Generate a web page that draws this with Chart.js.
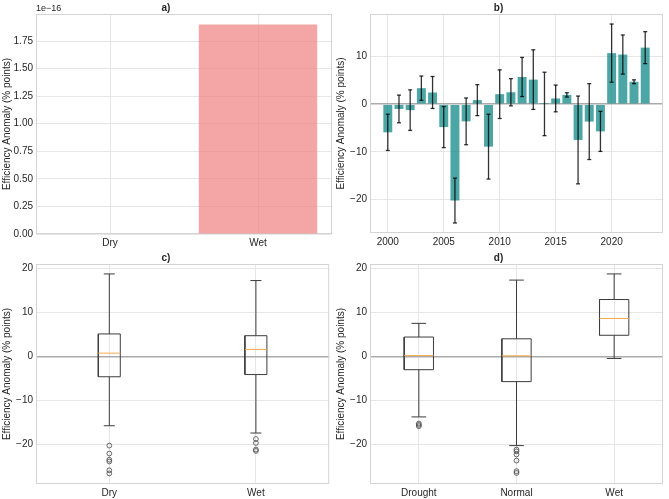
<!DOCTYPE html>
<html>
<head>
<meta charset="utf-8">
<script src="https://cdn.jsdelivr.net/npm/chart.js@4.4.1/dist/chart.umd.min.js"></script>
<style>
  html, body { margin: 0; padding: 0; background: #fff; }
  #fig { position: relative; width: 669px; height: 499px; }
  #fig canvas { position: absolute; }
</style>
</head>
<body>
<div id="fig">
  <canvas id="chartA" width="334" height="250" style="left:0;top:0"></canvas>
  <canvas id="chartB" width="335" height="250" style="left:334px;top:0"></canvas>
  <canvas id="chartC" width="334" height="249" style="left:0;top:250px"></canvas>
  <canvas id="chartD" width="335" height="249" style="left:334px;top:250px"></canvas>
</div>
<script>
// a) mean anomaly by season
var seasonLabels = ["Dry", "Wet"];
var seasonMeans = [0, 1.9e-16];
var tinyTicks = [0, 0.25e-16, 0.5e-16, 0.75e-16, 1.0e-16, 1.25e-16, 1.5e-16, 1.75e-16];

// b) yearly mean anomaly with error bars
var years = [2000, 2001, 2002, 2003, 2004, 2005, 2006, 2007, 2008, 2009, 2010, 2011,
             2012, 2013, 2014, 2015, 2016, 2017, 2018, 2019, 2020, 2021, 2022, 2023];
var yearMeans = [-5.9, -1.0, -1.25, 3.35, 2.45, -4.8, -20.2, -3.6, 0.85, -8.9, 2.1, 2.5,
                 5.7, 5.15, 0.05, 1.2, 1.95, -7.5, -3.65, -5.7, 10.7, 10.4, 4.7, 11.85];
var yearErrors = [3.8, 2.9, 4.25, 2.55, 3.35, 4.3, 4.7, 4.9, 3.25, 6.8, 5.1, 2.85,
                  4.1, 6.25, 6.65, 2.8, 0.45, 9.2, 7.95, 4.2, 6.1, 4.1, 0.4, 3.35];
var yearTicks = [2000, 2005, 2010, 2015, 2020];
var yearAnomalyTicks = [-20, -10, 0, 10];

// c) distribution by season: [low whisker, q1, median, q3, high whisker]
var seasonBoxes = [[-15.7, -4.6, 0.75, 5.1, 18.7], [-17.35, -4.1, 1.6, 4.7, 17.2]];
var seasonOutliers = [[-20.2, -22.0, -23.4, -23.8, -25.8, -26.5], [-18.7, -19.6, -21.1, -21.4]];

// d) distribution by rainfall regime
var regimeLabels = ["Drought", "Normal", "Wet"];
var regimeBoxes = [[-13.7, -3.0, 0.2, 4.4, 7.5], [-20.2, -5.7, 0.15, 4.0, 17.3], [-0.45, 4.8, 8.6, 12.9, 18.7]];
var regimeOutliers = [[-15.2, -15.5, -15.8], [-21.1, -21.5, -22.2, -23.6, -26.0, -26.4], []];
var anomalyTicks = [-20, -10, 0, 10, 20];

var FONT = "'Liberation Sans', Arial, sans-serif";
var TEXT = '#262626';
var GRID = '#e6e6e6';
var YLABEL = 'Efficiency Anomaly (% points)';

Chart.defaults.font.family = FONT;
Chart.defaults.color = TEXT;
Chart.defaults.animation = false;

function minus(v) { return String(v).replace('-', '\u2212'); }

var framePlugin = {
  id: 'frame',
  beforeDatasetsDraw: function(chart) {
    var a = chart.chartArea, ctx = chart.ctx;
    ctx.save();
    ctx.strokeStyle = '#d4d4d4';
    ctx.lineWidth = 1;
    ctx.strokeRect(a.left + 0.5, a.top + 0.5, a.right - a.left - 1, a.bottom - a.top - 1);
    ctx.restore();
  }
};

var offsetTextPlugin = {
  id: 'offsetText',
  afterDraw: function(chart) {
    var a = chart.chartArea, ctx = chart.ctx;
    ctx.save();
    ctx.font = '9px ' + FONT;
    ctx.fillStyle = TEXT;
    ctx.textBaseline = 'bottom';
    ctx.fillText('1e\u221216', a.left, a.top - 1);
    ctx.restore();
  }
};

function yAxis(min, max, ticks, fmt, zero) {
  return {
    min: min, max: max,
    afterBuildTicks: function(s) { s.ticks = ticks.map(function(v) { return { value: v }; }); },
    afterFit: function(s) { s.width = 36; },
    border: { display: false },
    grid: {
      drawTicks: false,
      color: function(c) { return zero && c.tick && c.tick.value === 0 ? '#ababab' : GRID; },
      lineWidth: function(c) { return zero && c.tick && c.tick.value === 0 ? 1.5 : 1; }
    },
    ticks: { padding: 3, font: { size: 10 }, color: TEXT, callback: fmt },
    title: { display: true, text: YLABEL, font: { size: 10 }, color: TEXT, padding: { top: 1, bottom: 0 } }
  };
}

function titleOpts(text) {
  return { display: true, text: text, font: { size: 10, weight: 'bold' }, color: TEXT, padding: { top: 2, bottom: 0 } };
}

function baseOptions(title, scales, rightPad) {
  return {
    responsive: false,
    events: [],
    layout: { padding: { left: 0, right: rightPad, top: 0, bottom: 0 } },
    plugins: { legend: { display: false }, tooltip: { enabled: false }, title: titleOpts(title) },
    scales: scales
  };
}

// ---- a)
new Chart(document.getElementById('chartA'), {
  type: 'bar',
  data: {
    labels: seasonLabels,
    datasets: [{ data: seasonMeans, backgroundColor: 'rgba(240,128,128,0.7)', barPercentage: 0.8, categoryPercentage: 1 }]
  },
  options: baseOptions('a)', {
    x: {
      offset: true,
      afterFit: function(s) { s.height = 16; },
      border: { display: false },
      grid: { offset: false, drawTicks: false, color: GRID },
      ticks: { padding: 3, font: { size: 10 }, color: TEXT }
    },
    y: yAxis(0, 1.995e-16, tinyTicks, function(v) { return (v / 1e-16).toFixed(2); }, false)
  }, 2),
  plugins: [framePlugin, offsetTextPlugin]
});

// ---- b)
var errLines = [], errCaps = [];
years.forEach(function(yr, i) {
  var lo = yearMeans[i] - yearErrors[i], hi = yearMeans[i] + yearErrors[i];
  errLines.push({ x: yr, y: lo }, { x: yr, y: hi }, { x: yr, y: null });
  errCaps.push({ x: yr, y: lo }, { x: yr, y: hi });
});

new Chart(document.getElementById('chartB'), {
  type: 'bar',
  data: {
    datasets: [
      { type: 'line', data: errLines, borderColor: 'rgba(0,0,0,0.8)', borderWidth: 1.3,
        pointRadius: 0, spanGaps: false, order: 0 },
      { type: 'line', data: errCaps, showLine: false, pointStyle: 'line', pointRadius: 2,
        pointBorderColor: 'rgba(0,0,0,0.8)', pointBorderWidth: 1.3, order: 0 },
      { type: 'bar', data: years.map(function(yr, i) { return { x: yr, y: yearMeans[i] }; }),
        backgroundColor: 'rgba(0,128,128,0.7)', barPercentage: 0.8, categoryPercentage: 1, order: 1 }
    ]
  },
  options: baseOptions('b)', {
    x: {
      type: 'linear', offset: false, min: 1998.41, max: 2024.59,
      afterBuildTicks: function(s) { s.ticks = yearTicks.map(function(v) { return { value: v }; }); },
      afterFit: function(s) { s.height = 17; },
      border: { display: false },
      grid: { offset: false, drawTicks: false, color: GRID },
      ticks: { padding: 3, font: { size: 10 }, color: TEXT, callback: function(v) { return String(v); } }
    },
    y: yAxis(-27.0, 18.9, yearAnomalyTicks, minus, true)
  }, 6),
  plugins: [framePlugin]
});

// ---- c) and d) box plots
function boxDatasets(boxes, outliers, width) {
  var whisk = [], caps = [], rects = [], meds = [], outs = [];
  var h = width / 2, c = width / 4;
  boxes.forEach(function(b, i) {
    var p = i + 1;
    whisk.push({ x: p, y: b[0] }, { x: p, y: b[1] }, { x: p, y: null }, { x: p, y: b[3] }, { x: p, y: b[4] }, { x: p, y: null });
    caps.push({ x: p - c, y: b[0] }, { x: p + c, y: b[0] }, { x: p, y: null }, { x: p - c, y: b[4] }, { x: p + c, y: b[4] }, { x: p, y: null });
    rects.push({ x: p - h, y: b[1] }, { x: p + h, y: b[1] }, { x: p + h, y: b[3] }, { x: p - h, y: b[3] }, { x: p - h, y: b[1] }, { x: p, y: null });
    meds.push({ x: p - h, y: b[2] }, { x: p + h, y: b[2] }, { x: p, y: null });
    outliers[i].forEach(function(v) { outs.push({ x: p, y: v }); });
  });
  var dark = '#3c3c3c';
  function line(data, color) {
    return { data: data, showLine: true, spanGaps: false, borderColor: color, borderWidth: 1, pointRadius: 0, borderJoinStyle: 'miter' };
  }
  return [
    { data: outs, showLine: false, pointStyle: 'circle', pointRadius: 2.4, pointBorderWidth: 0.8,
      pointBorderColor: '#444', pointBackgroundColor: 'rgba(0,0,0,0)' },
    line(meds, '#f5a94c'),
    line(rects, dark),
    line(caps, dark),
    line(whisk, dark)
  ];
}

function boxChart(id, title, labels, boxes, outliers, width, rightPad) {
  return new Chart(document.getElementById(id), {
    type: 'scatter',
    data: { datasets: boxDatasets(boxes, outliers, width) },
    options: baseOptions(title, {
      x: {
        type: 'linear', min: 0.5, max: labels.length + 0.5,
        afterBuildTicks: function(s) { s.ticks = labels.map(function(l, i) { return { value: i + 1 }; }); },
        afterFit: function(s) { s.height = 15; },
        border: { display: false },
        grid: { drawTicks: false, color: GRID },
        ticks: { padding: 3, font: { size: 10 }, color: TEXT, callback: function(v) { return labels[v - 1]; } }
      },
      y: yAxis(-28.9, 20.95, anomalyTicks, minus, true)
    }, rightPad),
    plugins: [framePlugin]
  });
}

boxChart('chartC', 'c)', seasonLabels, seasonBoxes, seasonOutliers, 0.15, 2);
boxChart('chartD', 'd)', regimeLabels, regimeBoxes, regimeOutliers, 0.3, 6);
</script>
</body>
</html>
